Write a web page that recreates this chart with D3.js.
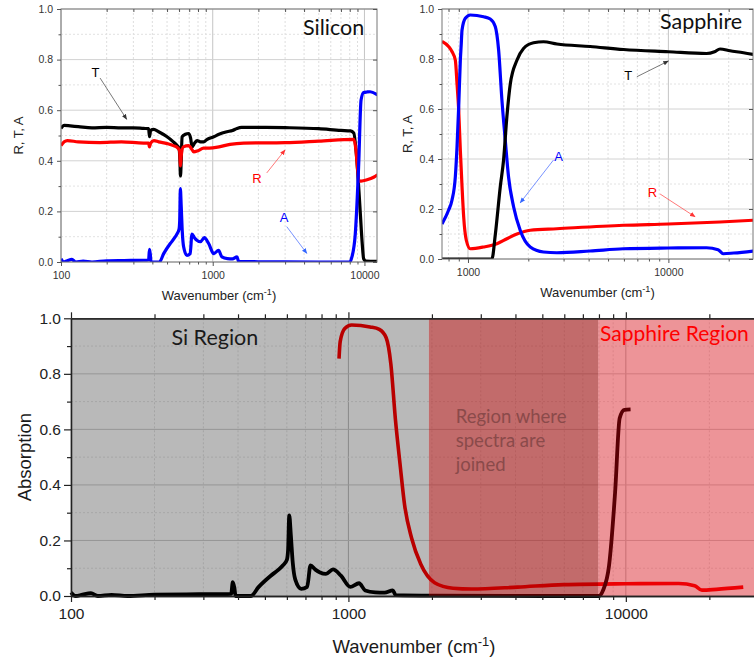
<!DOCTYPE html>
<html>
<head>
<meta charset="utf-8">
<script src="https://cdn.jsdelivr.net/npm/d3@7"></script>
<style>
body { margin: 0; background: #fff; }
svg { display: block; }
text { font-family: "Liberation Sans", Arial, sans-serif; }
.label { font-family: Lato, "Open Sans", sans-serif; }
</style>
</head>
<body>
<div class="container"></div>
<script>
const width = 754, height = 662;

// Silicon: [wavenumber cm-1, value]
const siliconT = [[100,0.528],[105,0.54],[115,0.538],[130,0.535],[160,0.53],[200,0.532],[250,0.53],[300,0.53],[350,0.528],[378,0.527],[383,0.495],[390,0.52],[408,0.524],[440,0.515],[500,0.495],[550,0.475],[583,0.46],[600,0.45],[608,0.40],[613,0.34],[620,0.40],[628,0.495],[660,0.505],[693,0.508],[715,0.49],[731,0.455],[760,0.47],[789,0.48],[830,0.475],[871,0.475],[920,0.485],[1016,0.495],[1100,0.505],[1243,0.515],[1350,0.52],[1446,0.528],[1550,0.532],[2000,0.532],[3000,0.531],[5000,0.527],[7000,0.52],[8090,0.518],[8500,0.51],[8920,0.40],[9200,0.28],[9420,0.18],[9650,0.08],[9880,0.013],[10200,0.004],[12200,0.003]];
const siliconR = [[100,0.46],[105,0.475],[110,0.48],[130,0.475],[180,0.472],[250,0.475],[350,0.47],[378,0.47],[383,0.455],[390,0.47],[410,0.48],[440,0.475],[500,0.468],[550,0.46],[590,0.45],[605,0.44],[613,0.38],[620,0.42],[640,0.455],[693,0.46],[720,0.45],[750,0.435],[800,0.44],[870,0.45],[950,0.45],[1100,0.455],[1300,0.465],[1600,0.47],[3000,0.472],[5000,0.478],[8500,0.485],[8800,0.44],[9000,0.37],[9200,0.32],[9500,0.32],[10400,0.325],[11500,0.335],[12200,0.345]];
const siliconA = [[100,0.013],[104,0.0],[110,0.005],[118,0.01],[125,0.0],[140,0.004],[160,0.0],[200,0.005],[260,0.006],[350,0.007],[378,0.008],[383,0.05],[388,0.03],[392,0.0],[420,0.0],[445,0.0],[475,0.033],[525,0.073],[560,0.095],[580,0.11],[600,0.13],[606,0.165],[612,0.29],[620,0.22],[630,0.12],[643,0.06],[676,0.026],[710,0.033],[730,0.11],[760,0.095],[790,0.085],[830,0.08],[880,0.096],[940,0.073],[1016,0.033],[1092,0.046],[1150,0.02],[1250,0.013],[1350,0.012],[1446,0.02],[1480,0.003],[2000,0.001],[5000,0.0],[8000,0.0],[8270,0.02],[8700,0.11],[9150,0.375],[9500,0.64],[9880,0.67],[10400,0.672],[10900,0.673],[12200,0.66]];

// Sapphire
const sapphireT = [[742,0.0],[1000,0.0],[1316,0.0],[1370,0.10],[1450,0.29],[1505,0.395],[1564,0.57],[1626,0.70],[1755,0.795],[1893,0.842],[2124,0.865],[2383,0.869],[2777,0.86],[4070,0.85],[5970,0.838],[10000,0.829],[15500,0.822],[17000,0.829],[18100,0.84],[20300,0.833],[23700,0.825],[26500,0.818]];
const sapphireR = [[742,0.87],[800,0.85],[832,0.83],[865,0.795],[882,0.70],[899,0.595],[916,0.435],[934,0.29],[952,0.168],[981,0.075],[1027,0.041],[1197,0.048],[1394,0.061],[1564,0.081],[1755,0.10],[2045,0.115],[2777,0.121],[5970,0.135],[10000,0.14],[18100,0.148],[26500,0.155]];
const sapphireA = [[742,0.14],[800,0.195],[832,0.235],[865,0.33],[882,0.45],[899,0.61],[916,0.795],[925,0.855],[934,0.916],[970,0.963],[1027,0.976],[1197,0.969],[1292,0.96],[1368,0.93],[1422,0.836],[1477,0.636],[1535,0.475],[1594,0.328],[1690,0.208],[1822,0.115],[2045,0.048],[2383,0.028],[2777,0.025],[4070,0.032],[5970,0.041],[10000,0.044],[15500,0.045],[17700,0.037],[18800,0.021],[21200,0.024],[26500,0.032]];

// combined plot: where each spectrum is used
const siliconCut = 10400, sapphireStart = 925;
const siRegion = [100, 1950], joinRegion = [1950, 7950], sapphireRegion = [7950, 30000];

const siliconXTicks = [100, 1000, 10000];
const sapphireXTicks = [1000, 10000];
const bottomXTicks = [100, 1000, 10000];
const yTicks = [0, 0.2, 0.4, 0.6, 0.8, 1.0];
const yMinor = [0.1, 0.3, 0.5, 0.7, 0.9];

const svg = d3.select(".container")
    .append("svg")
    .attr("width", width)
    .attr("height", height);

const defs = svg.append("defs");
[["T", "#333"], ["R", "#f33"], ["A", "#36f"]].forEach(([k, c]) => {
    defs.append("marker")
        .attr("id", "arrow" + k)
        .attr("viewBox", "0 0 10 10").attr("refX", 9).attr("refY", 5)
        .attr("markerWidth", 7).attr("markerHeight", 7)
        .attr("orient", "auto")
        .append("path").attr("d", "M0,1 L10,5 L0,9 z").attr("fill", c);
});

const logMinor = domain => {
    const out = [];
    for (let p = Math.floor(Math.log10(domain[0])); p <= Math.ceil(Math.log10(domain[1])); p++)
        for (let k = 1; k < 10; k++) {
            const v = k * Math.pow(10, p);
            if (v >= domain[0] && v <= domain[1]) out.push(v);
        }
    return out;
};

const supTitle = (sel, size) => {
    sel.append("tspan").text("Wavenumber (cm");
    sel.append("tspan").attr("font-size", size * 0.7).attr("dy", -size * 0.4).text("-1");
    sel.append("tspan").attr("dy", size * 0.4).text(")");
};

function panel(o) {
    const x = d3.scaleLog().domain(o.xDomain).range([o.left, o.right]);
    const y = d3.scaleLinear().domain([0, 1]).range([o.bottom, o.top]);
    const g = svg.append("g");
    const clipId = "clip-" + o.name;
    defs.append("clipPath").attr("id", clipId).append("rect")
        .attr("x", o.left).attr("y", o.top)
        .attr("width", o.right - o.left).attr("height", o.bottom - o.top);

    const minorX = logMinor(o.xDomain).filter(v => !o.xTicks.includes(v));

    // grid
    g.append("g").selectAll("line").data(minorX).join("line")
        .attr("x1", d => x(d)).attr("x2", d => x(d)).attr("y1", o.top).attr("y2", o.bottom)
        .attr("stroke", "#dedede").attr("stroke-dasharray", "2,2");
    g.append("g").selectAll("line").data(o.xTicks).join("line")
        .attr("x1", d => x(d)).attr("x2", d => x(d)).attr("y1", o.top).attr("y2", o.bottom)
        .attr("stroke", "#c4c4c4");
    g.append("g").selectAll("line").data(yMinor).join("line")
        .attr("x1", o.left).attr("x2", o.right).attr("y1", d => y(d)).attr("y2", d => y(d))
        .attr("stroke", "#e2e2e2").attr("stroke-dasharray", "2,2");
    g.append("g").selectAll("line").data(yTicks).join("line")
        .attr("x1", o.left).attr("x2", o.right).attr("y1", d => y(d)).attr("y2", d => y(d))
        .attr("stroke", "#d2d2d2");

    const line = d3.line().x(d => x(d[0])).y(d => y(d[1])).curve(d3.curveMonotoneX);
    const lines = g.append("g").attr("clip-path", `url(#${clipId})`);
    o.series.forEach(s => {
        lines.append("path").datum(s.data).attr("d", line)
            .attr("fill", "none").attr("stroke", s.color)
            .attr("stroke-width", 3.2).attr("stroke-linejoin", "round");
    });

    // frame + axes
    g.append("rect").attr("x", o.left).attr("y", o.top)
        .attr("width", o.right - o.left).attr("height", o.bottom - o.top)
        .attr("fill", "none").attr("stroke", "#777");

    const styleAxis = a => {
        a.select(".domain").remove();
        a.selectAll("line").attr("stroke", "#555");
        a.selectAll("text").attr("fill", "#333").attr("font-size", 10.5);
    };
    g.append("g").attr("transform", `translate(0,${o.bottom})`)
        .call(d3.axisBottom(x).tickValues(o.xTicks).tickFormat(d3.format("d")).tickSize(4).tickPadding(6))
        .call(styleAxis);
    g.append("g").attr("transform", `translate(0,${o.bottom})`)
        .call(d3.axisBottom(x).tickValues(minorX).tickFormat("").tickSize(2.5))
        .call(styleAxis);
    g.append("g").attr("transform", `translate(0,${o.top})`)
        .call(d3.axisTop(x).tickValues(minorX).tickFormat("").tickSize(-3))
        .call(styleAxis);
    g.append("g").attr("transform", `translate(${o.left},0)`)
        .call(d3.axisLeft(y).tickValues(yTicks).tickFormat(d3.format(".1f")).tickSize(4).tickPadding(4))
        .call(styleAxis);
    g.append("g").attr("transform", `translate(${o.left},0)`)
        .call(d3.axisLeft(y).tickValues(yMinor).tickFormat("").tickSize(2.5))
        .call(styleAxis);
    g.append("g").attr("transform", `translate(${o.right},0)`)
        .call(d3.axisRight(y).tickValues(yTicks).tickFormat("").tickSize(-4))
        .call(styleAxis);

    g.append("text")
        .attr("x", (o.left + o.right) / 2 + o.titleShift).attr("y", o.titleY)
        .attr("text-anchor", "middle").attr("font-size", 13).attr("fill", "#222")
        .call(supTitle, 13);
    g.append("text")
        .attr("transform", `translate(${o.yTitleX},${(o.top + o.bottom) / 2}) rotate(-90)`)
        .attr("text-anchor", "middle").attr("font-size", 13).attr("fill", "#222")
        .text("R, T, A");
    g.append("text").attr("class", "label")
        .attr("x", o.nameX).attr("y", o.nameY)
        .attr("font-size", 21.5).attr("fill", "#111").text(o.name);

    // annotations in data coordinates
    o.notes.forEach(n => {
        g.append("line")
            .attr("x1", x(n.from[0])).attr("y1", y(n.from[1]))
            .attr("x2", x(n.to[0])).attr("y2", y(n.to[1]))
            .attr("stroke", n.color).attr("stroke-width", 0.8)
            .attr("marker-end", `url(#arrow${n.key})`);
        g.append("text")
            .attr("x", x(n.at[0])).attr("y", y(n.at[1]))
            .attr("text-anchor", "middle").attr("dominant-baseline", "central")
            .attr("font-size", 13).attr("fill", n.text).text(n.key);
    });
}

panel({
    name: "Silicon", left: 61, right: 377, top: 9, bottom: 262,
    xDomain: [100, 12100], xTicks: siliconXTicks,
    titleY: 300, titleShift: 0, yTitleX: 23, nameX: 303, nameY: 35,
    series: [
        { data: siliconT, color: "#000" },
        { data: siliconR, color: "#ff0000" },
        { data: siliconA, color: "#0000ff" }
    ],
    notes: [
        { key: "T", at: [169, 0.748], from: [181, 0.727], to: [271, 0.564], color: "#555", text: "#000" },
        { key: "R", at: [1959, 0.332], from: [2270, 0.352], to: [2998, 0.443], color: "#f55", text: "#f00" },
        { key: "A", at: [2951, 0.174], from: [3074, 0.14], to: [4170, 0.034], color: "#57f", text: "#00f" }
    ]
});

panel({
    name: "Sapphire", left: 442, right: 753, top: 9, bottom: 259,
    xDomain: [742, 26440], xTicks: sapphireXTicks,
    titleY: 297, titleShift: 0, yTitleX: 412, nameX: 660, nameY: 29,
    series: [
        { data: sapphireR, color: "#ff0000" },
        { data: sapphireA, color: "#0000ff" },
        { data: sapphireT, color: "#000" }
    ],
    notes: [
        { key: "T", at: [6296, 0.736], from: [6960, 0.729], to: [10000, 0.792], color: "#555", text: "#000" },
        { key: "A", at: [2829, 0.412], from: [2671, 0.396], to: [1823, 0.225], color: "#57f", text: "#00f" },
        { key: "R", at: [8318, 0.265], from: [9093, 0.26], to: [13588, 0.169], color: "#f55", text: "#f00" }
    ]
});

// ---- combined absorption plot ----
const bx = d3.scaleLog().domain([100, 30000]).range([71, 758.2]);
const by = d3.scaleLinear().domain([0, 1]).range([596, 318.3]);
const bottomG = svg.append("g");
const bMinor = logMinor(bx.domain()).filter(v => !bottomXTicks.includes(v));

bottomG.append("g").selectAll("line").data(bMinor).join("line")
    .attr("x1", d => bx(d)).attr("x2", d => bx(d)).attr("y1", by(1)).attr("y2", by(0))
    .attr("stroke", "#e2e2e2").attr("stroke-dasharray", "2,2");
bottomG.append("g").selectAll("line").data(bottomXTicks).join("line")
    .attr("x1", d => bx(d)).attr("x2", d => bx(d)).attr("y1", by(1)).attr("y2", by(0))
    .attr("stroke", "#bdbdbd");
bottomG.append("g").selectAll("line").data(yMinor).join("line")
    .attr("x1", bx(100)).attr("x2", width).attr("y1", d => by(d)).attr("y2", d => by(d))
    .attr("stroke", "#e6e6e6").attr("stroke-dasharray", "2,2");
bottomG.append("g").selectAll("line").data(yTicks.slice(1, -1)).join("line")
    .attr("x1", bx(100)).attr("x2", width).attr("y1", d => by(d)).attr("y2", d => by(d))
    .attr("stroke", "#cfcfcf");

const bLine = d3.line().x(d => bx(d[0])).y(d => by(d[1])).curve(d3.curveMonotoneX);
bottomG.append("path").datum(sapphireA.filter(d => d[0] >= sapphireStart)).attr("d", bLine)
    .attr("fill", "none").attr("stroke", "#ff0000").attr("stroke-width", 3.6).attr("stroke-linejoin", "round");
bottomG.append("path").datum(siliconA.filter(d => d[0] <= siliconCut)).attr("d", bLine)
    .attr("fill", "none").attr("stroke", "#000").attr("stroke-width", 3.8).attr("stroke-linejoin", "round");

// translucent region overlays
const regionData = [
    { r: siRegion, fill: "rgba(0,0,0,0.275)" },
    { r: joinRegion, fill: "rgba(150,0,0,0.58)" },
    { r: sapphireRegion, fill: "rgba(212,0,10,0.42)" }
];
bottomG.append("g").selectAll("rect").data(regionData).join("rect")
    .attr("x", d => bx(d.r[0])).attr("width", d => bx(d.r[1]) - bx(d.r[0]))
    .attr("y", by(1)).attr("height", by(0) - by(1))
    .attr("fill", d => d.fill);

bottomG.append("text").attr("class", "label")
    .attr("x", bx(330)).attr("y", by(0.904)).attr("text-anchor", "middle")
    .attr("font-size", 21.5).attr("fill", "#1a1a1a").text("Si Region");
bottomG.append("text").attr("class", "label")
    .attr("x", bx(8070)).attr("y", by(0.919))
    .attr("font-size", 21).attr("fill", "#ff0000").text("Sapphire Region");
bottomG.append("g").selectAll("text").data(["Region where", "spectra are", "joined"]).join("text")
    .attr("class", "label")
    .attr("x", bx(2437)).attr("y", (d, i) => by(0.624) + i * 24)
    .attr("font-size", 18.5).attr("fill", "#8a4a4a").text(d => d);

const bStyle = a => {
    a.selectAll(".domain").attr("stroke", "#222").attr("stroke-width", 1.3);
    a.selectAll("line").attr("stroke", "#222").attr("stroke-width", 1.2);
    a.selectAll("text").attr("fill", "#222").attr("font-size", 15.5);
};
bottomG.append("g").attr("transform", `translate(0,${by(0)})`)
    .call(d3.axisBottom(bx).tickValues(bottomXTicks).tickFormat(d3.format("d")).tickSize(6).tickSizeOuter(0).tickPadding(6))
    .call(bStyle);
bottomG.append("g").attr("transform", `translate(0,${by(0)})`)
    .call(d3.axisBottom(bx).tickValues(bMinor).tickFormat("").tickSize(4).tickSizeOuter(0))
    .call(bStyle);
bottomG.append("g").attr("transform", `translate(0,${by(1)})`)
    .call(d3.axisTop(bx).tickValues(bottomXTicks).tickFormat("").tickSize(6).tickSizeOuter(0))
    .call(bStyle);
bottomG.append("g").attr("transform", `translate(0,${by(1)})`)
    .call(d3.axisTop(bx).tickValues(bMinor).tickFormat("").tickSize(4).tickSizeOuter(0))
    .call(bStyle);
bottomG.append("g").attr("transform", `translate(${bx(100)},0)`)
    .call(d3.axisLeft(by).tickValues(yTicks).tickFormat(d3.format(".1f")).tickSize(7).tickSizeOuter(0).tickPadding(3))
    .call(bStyle);
bottomG.append("g").attr("transform", `translate(${bx(100)},0)`)
    .call(d3.axisLeft(by).tickValues(yMinor).tickFormat("").tickSize(4).tickSizeOuter(0))
    .call(bStyle);

bottomG.append("text")
    .attr("x", 414).attr("y", 653).attr("text-anchor", "middle")
    .attr("font-size", 18.5).attr("fill", "#1a1a1a")
    .call(supTitle, 18.5);
bottomG.append("text")
    .attr("transform", `translate(31,${(by(0) + by(1)) / 2}) rotate(-90)`)
    .attr("text-anchor", "middle").attr("font-size", 18.5).attr("fill", "#1a1a1a")
    .text("Absorption");
</script>
</body>
</html>
